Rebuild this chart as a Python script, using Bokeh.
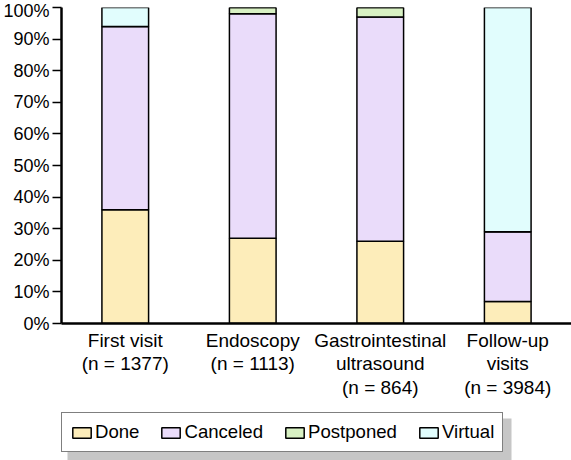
from bokeh.plotting import figure
from bokeh.layouts import column
from bokeh.models import (FactorRange, Legend, LegendItem, FixedTicker,
                          ColumnDataSource, Range1d, BoxAnnotation)
from bokeh.embed import file_html
from bokeh.resources import INLINE

categories = ["First visit\n(n = 1377)", "Endoscopy\n(n = 1113)",
              "Gastrointestinal\nultrasound\n(n = 864)", "Follow-up\nvisits\n(n = 3984)"]
series_names = ["Done", "Canceled", "Postponed", "Virtual"]
done = [36, 27, 26, 7]
canceled = [58, 71, 71, 22]
postponed = [0, 2, 3, 0]
virtual = [6, 0, 0, 71]
colors = ["#FDEDBA", "#EADCFA", "#D8F1C3", "#E1FDFD"]
y_ticks = [0, 10, 20, 30, 40, 50, 60, 70, 80, 90, 100]
y_tick_labels = ["0%", "10%", "20%", "30%", "40%", "50%", "60%", "70%", "80%", "90%", "100%"]

FONT = "Liberation Sans"
W = 571

source = ColumnDataSource(dict(cat=categories, Done=done, Canceled=canceled,
                               Postponed=postponed, Virtual=virtual))

# ---------------- main chart ----------------
p = figure(x_range=FactorRange(*categories), y_range=Range1d(0, 100),
           width=W, height=400, output_backend="svg", toolbar_location=None,
           min_border_top=7, min_border_right=0, min_border_left=61, min_border_bottom=75)
p.outline_line_color = None
p.xgrid.grid_line_color = None
p.ygrid.grid_line_color = None
p.x_range.range_padding = 0

p.vbar_stack(series_names, x="cat", width=0.366, color=colors,
             line_color="black", line_width=1.5, source=source)

ya = p.yaxis[0]
ya.ticker = FixedTicker(ticks=y_ticks)
ya.major_label_overrides = {t: l for t, l in zip(y_ticks, y_tick_labels)}
ya.axis_line_width = 2.5
ya.axis_line_color = "black"
ya.major_tick_out = 9
ya.major_tick_in = 0
ya.major_tick_line_width = 1.5
ya.minor_tick_line_color = None
ya.major_label_text_font = FONT
ya.major_label_text_font_size = "18px"
ya.major_label_text_color = "black"
ya.major_label_standoff = 3

xa = p.xaxis[0]
xa.axis_line_width = 2.5
xa.axis_line_color = "black"
xa.major_tick_line_color = None
xa.minor_tick_line_color = None
xa.major_label_text_font = FONT
xa.major_label_text_font_size = "19px"
xa.major_label_text_color = "black"
xa.major_label_text_line_height = 1.12
xa.major_label_standoff = 0
xa.major_label_orientation = "horizontal"

# ---------------- legend strip ----------------
p2 = figure(x_range=FactorRange(*categories), y_range=Range1d(0, 60),
            width=W, height=60, output_backend="svg", toolbar_location=None,
            x_axis_location=None, y_axis_location=None,
            min_border=0, min_border_left=0, min_border_right=0,
            min_border_top=0, min_border_bottom=0)
p2.outline_line_color = None
p2.xgrid.grid_line_color = None
p2.ygrid.grid_line_color = None

# drop shadow of the legend box
shadow = BoxAnnotation(left=6, right=450, left_units="screen", right_units="screen",
                       bottom=0, top=42, fill_color="#C6C6C6", fill_alpha=1.0,
                       line_color=None)
p2.add_layout(shadow)

# legend glyphs come from the same stacked series (hidden in this strip)
leg_renderers = p2.vbar_stack(series_names, x="cat", width=0.366, color=colors,
                              line_color="black", line_width=1.5, source=source)
for r in leg_renderers:
    r.visible = False

items = [LegendItem(label=n, renderers=[r]) for n, r in zip(series_names, leg_renderers)]
legend = Legend(items=items, orientation="horizontal", location=(0, 8),
                label_text_font=FONT, label_text_font_size="18.6px",
                label_text_color="black",
                glyph_width=23, glyph_height=13, label_standoff=2, spacing=20,
                padding=8, margin=0, border_line_color="black", border_line_width=1.2,
                background_fill_color="white", background_fill_alpha=1.0,
                inactive_fill_alpha=0.0)
p2.add_layout(legend, "center")

layout = column(p, p2, spacing=0)
open("out.html", "w").write(file_html(layout, INLINE))
